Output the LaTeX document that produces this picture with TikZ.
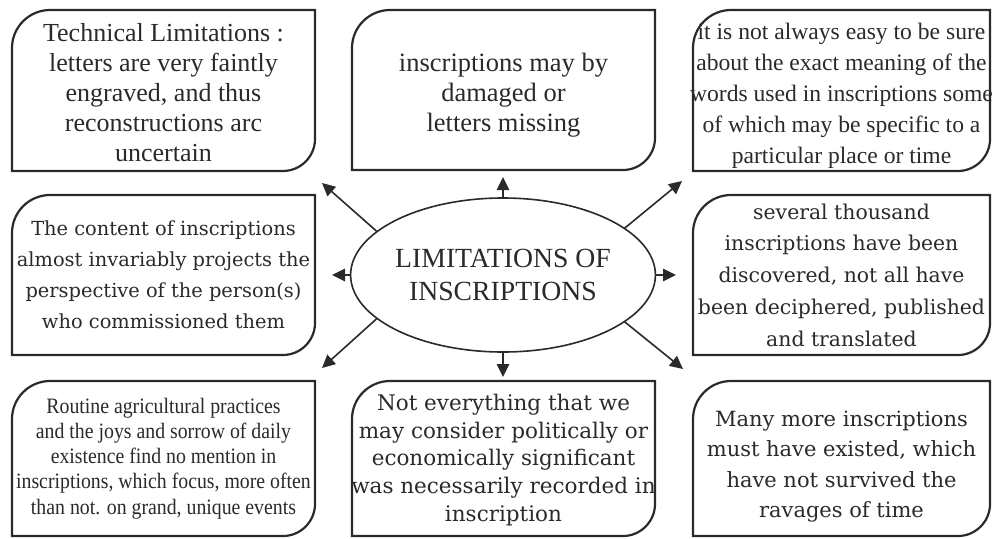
\documentclass[tikz,border=0pt]{standalone}
\usepackage{fontspec}
\setmainfont{Liberation Serif}
\newfontfamily\dvs{DejaVu Serif}
\newfontfamily\condserif[FakeStretch=0.9]{Liberation Serif}
\usetikzlibrary{arrows.meta,shapes.geometric}
\definecolor{ink}{HTML}{2A2A2A}
\tikzset{
  boxline/.style={draw=ink, line width=2.2pt},
  boxnode/.style={inner sep=0pt, outer sep=0pt},
  boxtext/.style={inner sep=0pt, outer sep=0pt, align=center, text=ink},
  conn/.style={draw=ink, line width=1.6pt, -{Triangle[length=13pt,width=12.5pt]}},
}
\newcommand\roundbox[3]{%
  \draw[boxline] (#1.north east) -- ([xshift=#2]#1.north west)
    .. controls ([xshift=0.45*#2]#1.north west) and ([yshift=-0.45*#2]#1.north west) .. ([yshift=-#2]#1.north west)
    -- (#1.south west) -- ([xshift=-#3]#1.south east)
    .. controls ([xshift=-0.45*#3]#1.south east) and ([yshift=0.45*#3]#1.south east) .. ([yshift=#3]#1.south east)
    -- cycle;}
\begin{document}
\begin{tikzpicture}[x=1pt,y=-1pt]
\useasboundingbox[fill=white] (0,0) rectangle (992,538);
% box frames
\node[boxnode, minimum width=303pt, minimum height=161pt] (tl) at (163.5,90.5) {};
\node[boxnode, minimum width=303pt, minimum height=160pt] (tm) at (503.5,90) {};
\node[boxnode, minimum width=297pt, minimum height=161pt] (tr) at (841.5,90.5) {};
\node[boxnode, minimum width=303pt, minimum height=160pt] (ml) at (163.5,275) {};
\node[boxnode, minimum width=297pt, minimum height=160pt] (mr) at (841.5,275) {};
\node[boxnode, minimum width=303pt, minimum height=155pt] (bl) at (163.5,458.5) {};
\node[boxnode, minimum width=303pt, minimum height=155pt] (bm) at (503.5,458.5) {};
\node[boxnode, minimum width=297pt, minimum height=155pt] (br) at (841.5,458.5) {};
\roundbox{tl}{38pt}{32pt}
\roundbox{tm}{38pt}{32pt}
\roundbox{tr}{38pt}{32pt}
\roundbox{ml}{38pt}{32pt}
\roundbox{mr}{38pt}{32pt}
\roundbox{bl}{38pt}{32pt}
\roundbox{bm}{38pt}{32pt}
\roundbox{br}{38pt}{32pt}
% box texts
\node[boxtext, font=\fontsize{26}{30}\selectfont, yshift=-2pt] (tl-t) at (tl.center)
  {Technical Limitations :\\letters are very faintly\\engraved, and thus\\reconstructions arc\\uncertain};
\node[boxtext, font=\fontsize{26.5}{30}\selectfont, yshift=-5pt] (tm-t) at (tm.center)
  {inscriptions may by\\damaged or\\letters missing};
\node[boxtext, font=\fontsize{23.6}{31}\selectfont, yshift=-5pt] (tr-t) at (tr.center)
  {it is not always easy to be sure\\about the exact meaning of the\\words used in inscriptions some\\of which may be specific to a\\particular place or time};
\node[boxtext, font=\dvs\fontsize{19.4}{31}\selectfont] (ml-t) at (ml.center)
  {The content of inscriptions\\almost invariably projects the\\perspective of the person(s)\\who commissioned them};
\node[boxtext, font=\dvs\fontsize{20.4}{31.7}\selectfont] (mr-t) at (mr.center)
  {several thousand\\inscriptions have been\\discovered, not all have\\been deciphered, published\\and translated};
\node[boxtext, font=\condserif\fontsize{22}{25.2}\selectfont] (bl-t) at (bl.center)
  {Routine agricultural practices\\and the joys and sorrow of daily\\existence find no mention in\\inscriptions, which focus, more often\\than not. on grand, unique events};
\node[boxtext, font=\dvs\fontsize{21.5}{27.6}\selectfont, yshift=-1.5pt] (bm-t) at (bm.center)
  {Not everything that we\\may consider politically or\\economically significant\\was necessarily recorded in\\inscription};
\node[boxtext, font=\dvs\fontsize{21}{30.5}\selectfont, yshift=-8pt] (br-t) at (br.center)
  {Many more inscriptions\\must have existed, which\\have not survived the\\ravages of time};
% centre
\node[ellipse, draw=ink, line width=1.6pt, minimum width=296pt, minimum height=154pt, inner sep=0pt, outer sep=0pt,
  align=center, text=ink, font=\fontsize{27.7}{33}\selectfont] (e) at (503,275) {LIMITATIONS OF\\INSCRIPTIONS};
% arrow tips
\coordinate (tU) at (503,177);
\coordinate (tD) at (503,377);
\coordinate (tL) at (332,275);
\coordinate (tR) at (676,275);
\coordinate (tUL) at (322,183);
\coordinate (tUR) at (682,181);
\coordinate (tLL) at (322,368);
\coordinate (tLR) at (683,369);
\draw[conn] (e.90) -- (tU);
\draw[conn] (e.270) -- (tD);
\draw[conn] (e.180) -- (tL);
\draw[conn] (e.0) -- (tR);
\draw[conn] (e.161) -- (tUL);
\draw[conn] (e.21) -- (tUR);
\draw[conn] (e.199) -- (tLL);
\draw[conn] (e.339) -- (tLR);
\end{tikzpicture}
\end{document}
